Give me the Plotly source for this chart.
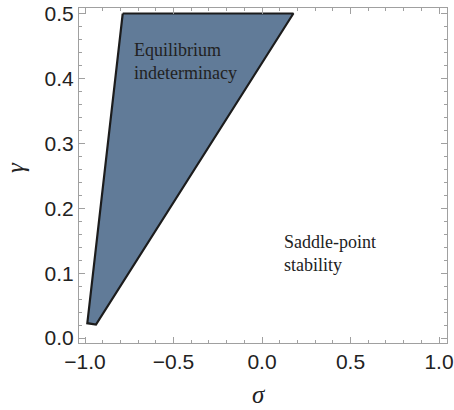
import plotly.graph_objects as go

# Region of equilibrium indeterminacy (polygon vertices in sigma-gamma space)
sigma_vertices = [-0.787, 0.177, -0.938, -0.987, -0.787]
gamma_vertices = [0.500, 0.500, 0.021, 0.023, 0.500]

x_ticks = [-1.0, -0.5, 0.0, 0.5, 1.0]
x_tick_labels = ["\u22121.0", "\u22120.5", "0.0", "0.5", "1.0"]
y_ticks = [0.0, 0.1, 0.2, 0.3, 0.4, 0.5]
y_tick_labels = ["0.0", "0.1", "0.2", "0.3", "0.4", "0.5"]

region_labels = ["Equilibrium<br>indeterminacy", "Saddle-point<br>stability"]
region_label_x = [-0.735, 0.115]
region_label_y = [0.426, 0.130]

fig = go.Figure()
fig.add_trace(go.Scatter(
    x=sigma_vertices, y=gamma_vertices, mode="lines", fill="toself",
    fillcolor="#617b98", line=dict(color="#1c1c1c", width=2.2),
    hoverinfo="skip", showlegend=False,
))

for txt, xx, yy in zip(region_labels, region_label_x, region_label_y):
    fig.add_annotation(
        x=xx, y=yy, xref="x", yref="y", text=txt, showarrow=False,
        xanchor="left", yanchor="middle", align="left",
        font=dict(family="Liberation Serif", size=18, color="#222222"),
    )

fig.add_annotation(
    x=0.5, y=-0.155, xref="paper", yref="paper", text="<i>\u03c3</i>", showarrow=False,
    xanchor="center", yanchor="middle", xshift=-4,
    font=dict(family="Liberation Serif", size=25, color="#222222"),
)
fig.add_annotation(
    x=0, y=0.262, xref="paper", yref="y", text="<i>\u03b3</i>", showarrow=False,
    textangle=-90, xanchor="center", yanchor="middle", xshift=-64,
    font=dict(family="Liberation Serif", size=25, color="#222222"),
)

axis_common = dict(
    showgrid=False, zeroline=False, showline=True, linecolor="#a0a0a0",
    linewidth=1, mirror="ticks", ticks="inside", ticklen=6, tickcolor="#a0a0a0",
    tickfont=dict(family="Liberation Sans", size=21, color="#222222"),
    automargin=False,
)

fig.update_xaxes(
    range=[-1.034, 1.045], tickvals=x_ticks, ticktext=x_tick_labels,
    minor=dict(dtick=0.1, tick0=0, ticks="inside", ticklen=3, tickcolor="#a0a0a0"),
    **axis_common,
)
fig.update_yaxes(
    range=[-0.0075, 0.5085], tickvals=y_ticks, ticktext=y_tick_labels,
    minor=dict(dtick=0.02, tick0=0, ticks="inside", ticklen=3, tickcolor="#a0a0a0"),
    **axis_common,
)

fig.update_layout(
    width=454, height=410,
    margin=dict(l=79, r=7, t=8, b=67),
    paper_bgcolor="white", plot_bgcolor="white",
    showlegend=False,
)

fig.write_html("out.html", config={"displayModeBar": False},
               post_script="document.body.style.margin='0';")
